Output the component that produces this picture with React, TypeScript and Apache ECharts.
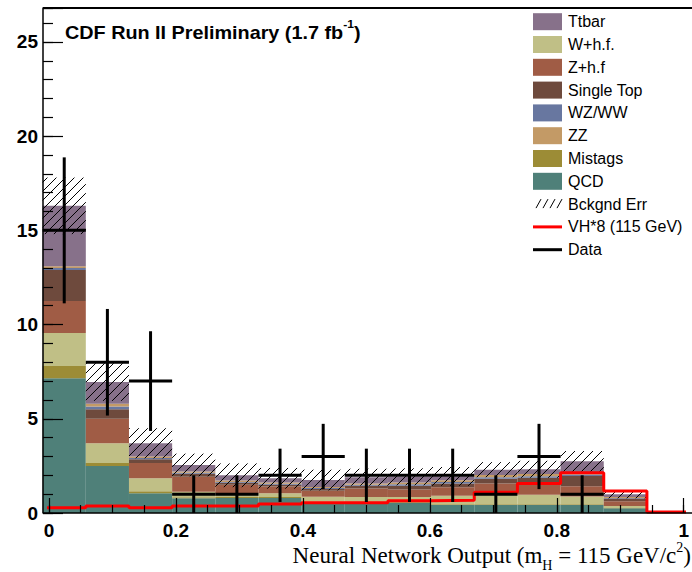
import React, { useEffect, useRef } from "react";
import * as echarts from "echarts";

// Histogram binning (15 bins)
const binEdges = [-0.01, 0.058, 0.126, 0.194, 0.262, 0.33, 0.398, 0.466, 0.534, 0.602, 0.67, 0.738, 0.806, 0.874, 0.942, 1.01];

// Background components (stack order bottom -> top)
const qcd = [7.15, 2.5, 1.05, 0.78, 0.8, 0.8, 0.55, 0.5, 0.55, 0.42, 0.42, 0.42, 0.42, 0.25, 0];
const mistags = [0.65, 0.15, 0.1, 0.05, 0.05, 0.05, 0.05, 0.05, 0.05, 0.05, 0.05, 0.05, 0.05, 0.02, 0];
const wHf = [1.75, 1.05, 0.7, 0.3, 0.2, 0.2, 0.26, 0.3, 0.25, 0.45, 0.5, 0.5, 0.4, 0.1, 0];
const zHf = [1.7, 1.3, 0.8, 0.8, 0.45, 0.35, 0.32, 0.45, 0.4, 0.45, 0.6, 0.6, 0.55, 0.25, 0];
const singleTop = [1.65, 0.5, 0.2, 0.15, 0.1, 0.1, 0.1, 0.15, 0.2, 0.2, 0.25, 0.3, 0.55, 0.15, 0];
const wzww = [0.1, 0.15, 0.07, 0.05, 0.05, 0.05, 0.05, 0.05, 0.07, 0.07, 0.08, 0.08, 0.07, 0.03, 0];
const zz = [0.1, 0.15, 0.08, 0.07, 0.07, 0.07, 0.05, 0.07, 0.1, 0.1, 0.12, 0.12, 0.1, 0.05, 0];
const ttbar = [3.2, 1.15, 0.7, 0.35, 0.28, 0.22, 0.37, 0.33, 0.3, 0.2, 0.28, 0.25, 0.6, 0.15, 0];

// Background uncertainty (+/-)
const bkgErr = [1.5, 1.0, 0.8, 0.6, 0.63, 0.55, 0.55, 0.45, 0.45, 0.5, 0.4, 0.45, 0.55, 0.22, 0];

// Signal VH*8 (115 GeV)
const signal = [0.28, 0.37, 0.28, 0.37, 0.37, 0.48, 0.55, 0.55, 0.65, 0.68, 1.1, 1.57, 2.14, 1.17, 0.05];

// Observed data counts
const dataCounts = [15, 8, 7, 1, 1, 2, 3, 2, 2, 2, 1, 3, 1, 0, 0];

const bgNames = ["QCD", "Mistags", "W+h.f.", "Z+h.f", "Single Top", "WZ/WW", "ZZ", "Ttbar"];
const bgValues = [qcd, mistags, wHf, zHf, singleTop, wzww, zz, ttbar];
const bgColors: Record<string, string> = {
  QCD: "#4f8079",
  Mistags: "#9c8c36",
  "W+h.f.": "#c0bf86",
  "Z+h.f": "#a05c45",
  "Single Top": "#6e4a3d",
  "WZ/WW": "#6877a0",
  ZZ: "#c39a66",
  Ttbar: "#87718a",
};

const legendLabels = ["Ttbar", "W+h.f.", "Z+h.f", "Single Top", "WZ/WW", "ZZ", "Mistags", "QCD", "Bckgnd Err", "VH*8 (115 GeV)", "Data"];

const yTickMajor = 5;
const yTickMinor = 1;
const xTickMajor = 0.2;
const xTickMinor = 0.05;

export default function App() {
  const ref = useRef<HTMLDivElement>(null);
  useEffect(() => {
    if (!ref.current) return;
    const chart = echarts.init(ref.current, null, { renderer: "svg" });
    const nb = binEdges.length - 1;

    // cumulative stack
    const cum: number[] = new Array(nb).fill(0);
    const stackSeries: any[] = bgNames.map((name, k) => {
      const items: number[][] = [];
      for (let i = 0; i < nb; i++) {
        const base = cum[i];
        const top = base + bgValues[k][i];
        cum[i] = top;
        if (bgValues[k][i] > 0) items.push([binEdges[i], binEdges[i + 1], base, top]);
      }
      const color = bgColors[name];
      return {
        type: "custom",
        name,
        z: 2,
        clip: false,
        encode: { x: [0, 1], y: [2, 3] },
        data: items,
        renderItem: (params: any, api: any) => {
          const pa = api.coord([api.value(0), api.value(3)]);
          const pb = api.coord([api.value(1), api.value(2)]);
          return {
            type: "rect",
            shape: { x: pa[0], y: pa[1], width: pb[0] - pa[0], height: pb[1] - pa[1] },
            style: { fill: color, stroke: null },
          };
        },
      };
    });

    const hatchItems: number[][] = [];
    for (let i = 0; i < nb; i++) {
      if (bkgErr[i] > 0) hatchItems.push([binEdges[i], binEdges[i + 1], cum[i] - bkgErr[i], cum[i] + bkgErr[i]]);
    }
    const hatchSeries = {
      type: "custom",
      name: "Bckgnd Err",
      z: 3,
      clip: false,
      encode: { x: [0, 1], y: [2, 3] },
      data: hatchItems,
      renderItem: (params: any, api: any) => {
        const pa = api.coord([api.value(0), api.value(3)]);
        const pb = api.coord([api.value(1), api.value(2)]);
        const x0 = pa[0], x1 = pb[0], yTop = pa[1], yBot = pb[1];
        const s = 9;
        const children: any[] = [];
        const cMin = x0 + yTop, cMax = x1 + yBot;
        for (let c = Math.ceil(cMin / s) * s; c <= cMax; c += s) {
          const ya = Math.max(yTop, c - x1);
          const yb = Math.min(yBot, c - x0);
          if (yb - ya > 0.5) {
            children.push({
              type: "line",
              shape: { x1: c - yb, y1: yb, x2: c - ya, y2: ya },
              style: { stroke: "#000", lineWidth: 1 },
            });
          }
        }
        return { type: "group", children };
      },
    };

    const signalData: number[][] = [];
    for (let i = 0; i < nb; i++) signalData.push([binEdges[i], signal[i]]);
    signalData.push([binEdges[nb], signal[nb - 1]]);
    const signalSeries = {
      type: "line",
      name: "VH*8 (115 GeV)",
      z: 4,
      clip: false,
      step: "end",
      symbol: "none",
      data: signalData,
      lineStyle: { color: "#ff0000", width: 3 },
    };

    const dataItems: number[][] = [];
    for (let i = 0; i < nb; i++) {
      if (dataCounts[i] > 0) {
        dataItems.push([(binEdges[i] + binEdges[i + 1]) / 2, dataCounts[i], binEdges[i], binEdges[i + 1], Math.sqrt(dataCounts[i])]);
      }
    }
    const dataSeries = {
      type: "custom",
      name: "Data",
      z: 5,
      clip: false,
      encode: { x: 0, y: 1 },
      data: dataItems,
      renderItem: (params: any, api: any) => {
        const xc = api.value(0), n = api.value(1), x0 = api.value(2), x1 = api.value(3), e = api.value(4);
        const pTop = api.coord([xc, n + e]);
        const pBot = api.coord([xc, n - e]);
        const pL = api.coord([x0, n]);
        const pR = api.coord([x1, n]);
        const st = { stroke: "#000", lineWidth: 3 };
        return {
          type: "group",
          children: [
            { type: "line", shape: { x1: pTop[0], y1: pTop[1], x2: pBot[0], y2: pBot[1] }, style: st },
            { type: "line", shape: { x1: pL[0], y1: pL[1], x2: pR[0], y2: pR[1] }, style: st },
          ],
        };
      },
    };

    const isMult = (v: number, m: number) => Math.abs(v / m - Math.round(v / m)) < 1e-6;

    const legendRowY = (i: number) => 21.7 + 22.8 * i;
    const legendGraphics: any[] = [];
    legendLabels.forEach((lab, i) => {
      const cy = legendRowY(i);
      if (bgColors[lab]) {
        legendGraphics.push({ type: "rect", shape: { x: 533, y: cy - 8.5, width: 29, height: 17 }, style: { fill: bgColors[lab] } });
      } else if (lab === "Bckgnd Err") {
        for (let k = 0; k < 4; k++) {
          const bx = 536 + k * 7;
          legendGraphics.push({ type: "line", shape: { x1: bx, y1: cy + 4, x2: bx + 5, y2: cy - 5 }, style: { stroke: "#000", lineWidth: 1 } });
        }
      } else if (lab === "Data") {
        legendGraphics.push({ type: "line", shape: { x1: 533, y1: cy, x2: 562, y2: cy }, style: { stroke: "#000", lineWidth: 3 } });
      } else {
        legendGraphics.push({ type: "line", shape: { x1: 533, y1: cy, x2: 562, y2: cy }, style: { stroke: "#ff0000", lineWidth: 3 } });
      }
      legendGraphics.push({
        type: "text",
        x: 568,
        y: cy,
        style: { text: lab, fill: "#000", fontSize: 16, fontFamily: "Liberation Sans, Arial, sans-serif", verticalAlign: "middle", align: "left" },
      });
    });

    const axisFont = { color: "#000", fontSize: 19, fontWeight: "bold", fontFamily: "Liberation Sans, Arial, sans-serif" };

    const option: any = {
      animation: false,
      backgroundColor: "#fff",
      grid: { left: 49, right: 6, top: 8, bottom: 59, containLabel: false },
      xAxis: [
        {
          type: "value",
          min: 0,
          max: 1,
          interval: xTickMajor,
          position: "bottom",
          z: 10,
          axisLine: { show: false, onZero: false },
          axisTick: { show: true, inside: true, length: 15, lineStyle: { color: "#000", width: 1.2 } },
          axisLabel: {
            ...axisFont,
            margin: 8,
            showMinLabel: true,
            showMaxLabel: true,
            formatter: (v: number) => (isMult(v, xTickMajor) ? String(Math.round(v * 10) / 10) : ""),
          },
          splitLine: { show: false },
        },
        {
          type: "value",
          min: 0,
          max: 1,
          interval: xTickMinor,
          position: "bottom",
          z: 10,
          axisLine: { show: false, onZero: false },
          axisTick: { show: true, inside: true, length: 8, lineStyle: { color: "#000", width: 1.2 } },
          axisLabel: { show: false },
          splitLine: { show: false },
        },
      ],
      yAxis: [
        {
          type: "value",
          min: 0,
          max: 26.8,
          interval: yTickMajor,
          position: "left",
          offset: 6,
          z: 10,
          axisLine: { show: true, onZero: false, lineStyle: { color: "#000", width: 1.5 } },
          axisTick: { show: true, inside: true, length: 20, lineStyle: { color: "#000", width: 1.2 } },
          axisLabel: {
            ...axisFont,
            margin: 5,
            formatter: (v: number) => (isMult(v, yTickMajor) ? String(Math.round(v)) : ""),
          },
          splitLine: { show: false },
        },
        {
          type: "value",
          min: 0,
          max: 26.8,
          interval: yTickMinor,
          position: "left",
          offset: 6,
          z: 10,
          axisLine: { show: false, onZero: false },
          axisTick: { show: true, inside: true, length: 10, lineStyle: { color: "#000", width: 1.2 } },
          axisLabel: { show: false },
          splitLine: { show: false },
        },
      ],
      series: [...stackSeries, hatchSeries, signalSeries, dataSeries],
      graphic: [
        { type: "line", shape: { x1: 43, y1: 8, x2: 692, y2: 8 }, style: { stroke: "#000", lineWidth: 2 }, z: 10 },
        { type: "line", shape: { x1: 43, y1: 513, x2: 692, y2: 513 }, style: { stroke: "#000", lineWidth: 1.5 }, z: 10 },
        {
          type: "text",
          x: 65,
          y: 19,
          scaleX: 1.1,
          style: {
            text: "{a|CDF Run II Preliminary (1.7 fb}{p|-1}{a|)}",
            rich: {
              a: { fontSize: 18, fontWeight: "bold", fontFamily: "Liberation Sans, Arial, sans-serif", fill: "#000", lineHeight: 20, verticalAlign: "top", padding: [5, 0, 0, 0] },
              p: { fontSize: 11, fontWeight: "bold", fontFamily: "Liberation Sans, Arial, sans-serif", fill: "#000", lineHeight: 11, verticalAlign: "top", padding: [0, 0, 0, 0] },
            },
          },
        },
        {
          type: "text",
          x: 691,
          y: 540,
          style: {
            text: "{a|Neural Network Output (m}{s|H}{a| = 115 GeV/c}{p|2}{a|)}",
            align: "right",
            verticalAlign: "top",
            rich: {
              a: { fontSize: 23, fontFamily: "Liberation Serif, Times New Roman, serif", fill: "#000", lineHeight: 26, verticalAlign: "top", padding: [4, 0, 0, 0] },
              s: { fontSize: 14, fontFamily: "Liberation Serif, Times New Roman, serif", fill: "#000", lineHeight: 12, verticalAlign: "top", padding: [18, 0, 0, 0] },
              p: { fontSize: 14, fontFamily: "Liberation Serif, Times New Roman, serif", fill: "#000", lineHeight: 14, verticalAlign: "top", padding: [0, 0, 0, 0] },
            },
          },
        },
        ...legendGraphics,
      ],
    };
    chart.setOption(option);
    return () => chart.dispose();
  }, []);
  return <div ref={ref} style={{ position: "absolute", left: 0, top: 0, width: 692, height: 572 }} />;
}
